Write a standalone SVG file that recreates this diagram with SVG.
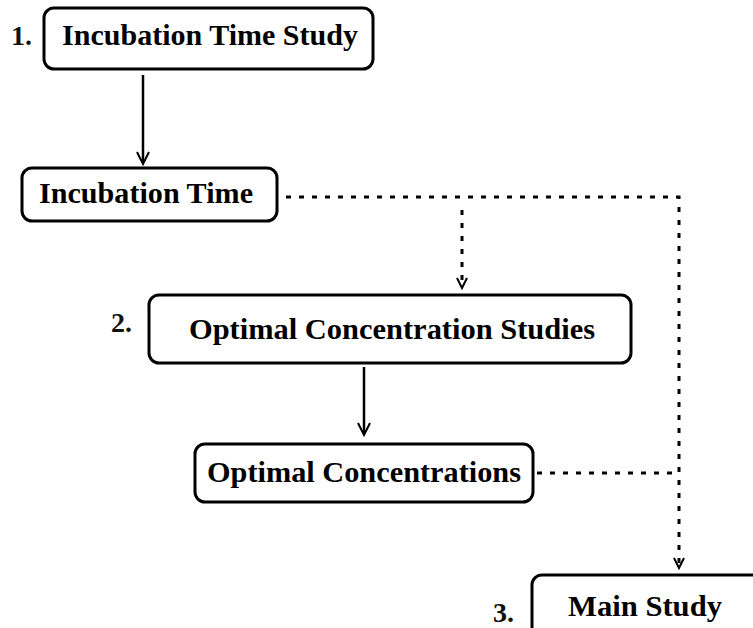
<svg xmlns="http://www.w3.org/2000/svg" width="753" height="628" viewBox="0 0 753 628">
<style>
.box{fill:#fff;stroke:#000;stroke-width:3}
.t{font-family:"Liberation Serif","Times New Roman",serif;font-weight:bold;font-size:30px;fill:#000}
.n{font-family:"Liberation Serif","Times New Roman",serif;font-weight:bold;font-size:28px;fill:#111}
.solid{fill:none;stroke:#000;stroke-width:2.5}
.dot{fill:none;stroke:#000;stroke-width:3;stroke-dasharray:5 8}
.head{fill:none;stroke:#000;stroke-width:2}
</style>
<rect width="753" height="628" fill="#fff"/>
<g id="connectors">
  <line class="solid" x1="143" y1="75" x2="143" y2="163"/>
  <polyline class="head" points="137,152 143,164 149,152"/>
  <line class="solid" x1="364" y1="367" x2="364" y2="434"/>
  <polyline class="head" points="358,423 364,435 370,423"/>
  <polyline class="dot" points="286,197 679,197 679,566"/>
  <polyline class="head" points="674,558 679,568 684,558"/>
  <line class="dot" x1="462" y1="210" x2="462" y2="287"/>
  <polyline class="head" points="457,278 462,288 467,278"/>
  <line class="dot" x1="537" y1="473" x2="679" y2="473"/>
</g>
<g id="node1">
  <rect class="box" x="44" y="8" width="329" height="61" rx="10"/>
  <text class="t" x="62" y="45" textLength="296" lengthAdjust="spacingAndGlyphs">Incubation Time Study</text>
  <text class="n" x="11" y="45">1.</text>
</g>
<g id="node2">
  <rect class="box" x="22" y="168" width="255" height="53" rx="10"/>
  <text class="t" x="39" y="203" textLength="214" lengthAdjust="spacingAndGlyphs">Incubation Time</text>
</g>
<g id="node3">
  <rect class="box" x="149" y="295" width="482" height="68" rx="10"/>
  <text class="t" x="189" y="339" textLength="406" lengthAdjust="spacingAndGlyphs">Optimal Concentration Studies</text>
  <text class="n" x="111" y="332">2.</text>
</g>
<g id="node4">
  <rect class="box" x="195" y="444" width="338" height="58" rx="10"/>
  <text class="t" x="207" y="482" textLength="314" lengthAdjust="spacingAndGlyphs">Optimal Concentrations</text>
</g>
<g id="node5">
  <rect class="box" x="532" y="575" width="240" height="70" rx="10"/>
  <text class="t" x="568" y="616" textLength="154" lengthAdjust="spacingAndGlyphs">Main Study</text>
  <text class="n" x="493" y="622">3.</text>
</g>
</svg>
